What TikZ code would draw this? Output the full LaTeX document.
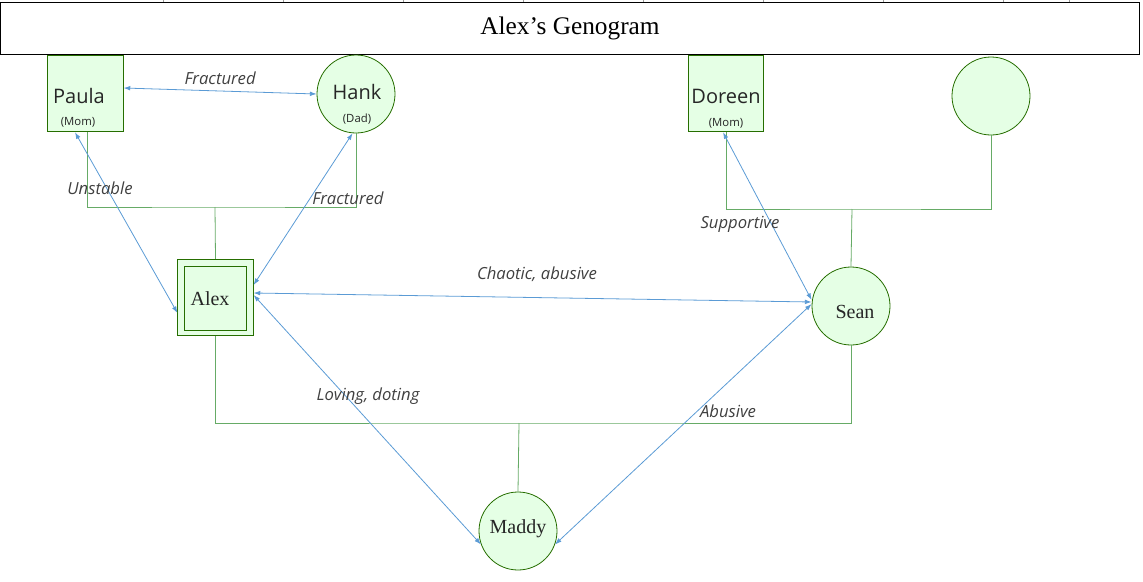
\documentclass[tikz,border=0pt]{standalone}
\usepackage{fontspec}
\setmainfont{Liberation Serif}
\newfontfamily\segoe{Open Sans}
\begin{document}
\begin{tikzpicture}[x=0.75pt,y=-0.75pt,
  person/.style={draw=green!40!black!70!olive,fill=green!10!white,line width=0.6pt,inner sep=0pt},
  sq/.style={person,minimum width=56.5pt,minimum height=57.5pt},
  circ/.style={person,circle,minimum size=58.5pt},
  rel/.style={draw=black!55!green!60,line width=0.6pt},
  link/.style={draw={rgb,255:red,91;green,155;blue,213},line width=0.6pt,{Latex[length=5pt,width=3.5pt]}-{Latex[length=5pt,width=3.5pt]}},
  lab/.style={font=\segoe\itshape\fontsize{12.5}{14}\selectfont,text=black!75},
  nm/.style={font=\segoe\fontsize{15}{17}\selectfont,text=black!85},
  sm/.style={font=\segoe\fontsize{8.5}{10}\selectfont,text=black!85},
  sn/.style={font=\fontsize{15}{17}\selectfont,text=black!85}]
\useasboundingbox (0,0) rectangle (1143,582);
\usetikzlibrary{arrows.meta}
\node[draw,line width=0.6pt,minimum width=854pt,minimum height=39pt,inner sep=0pt,font=\fontsize{19}{22}\selectfont] (title) at (570,28) {Alex’s Genogram};
\foreach \x in {163,283,403,523,643,763,883,1003,1069} \draw[black!40,line width=0.4pt] (\x,0) -- (\x,2);
% persons
\node[sq] (paula) at (85.5,93.5) {};
\node[nm] at (79,96) {Paula};
\node[sm] at (78,122) {(Mom)};
\node[circ] (hank) at (356,94) {};
\node[nm] at (357,92) {Hank};
\node[sm] at (357,119) {(Dad)};
\node[sq] (doreen) at (726,93.5) {};
\node[nm] at (726,96) {Doreen};
\node[sm] at (726,123) {(Mom)};
\node[circ] (other) at (991,96) {};
\node[sq] (alex) at (215.5,297.5) {};
\node[person,minimum width=47pt,minimum height=48pt] (alexin) at (215.5,298) {};
\node[sn] at (210,299) {Alex};
\node[circ] (sean) at (851,306) {};
\node[sn] at (855,312) {Sean};
\node[circ] (maddy) at (518,531) {};
\node[sn] at (518,529) {Maddy};
% family lines
\coordinate (f1) at (215,207);
\coordinate (f2) at (852,209);
\coordinate (f3) at (519,423);
\draw[rel] (paula.south -| 87,0) |- (f1) -| (hank.south);
\draw[rel] (f1) -- (alex.north);
\draw[rel] (doreen.south) |- (f2) -| (other.south);
\draw[rel] (f2) -- (sean.north);
\draw[rel] (alex.south) |- (f3) -| (sean.south);
\draw[rel] (f3) -- (maddy.north);
% relationship arrows
\draw[link] (paula.east |- 0,88) -- (hank.west) node[pos=0.5,lab,above=1pt] {Fractured};
\draw[link] (paula.south -| 75,0) -- (alex.west |- 0,313);
\node[lab] at (100,188) {Unstable};
\draw[link] (hank.-95) -- (alex.east |- 0,285);
\node[lab] at (348,198) {Fractured};
\draw[link] (alex.east |- 0,293) -- (sean.west |- 0,302);
\node[lab] at (537,274) {Chaotic, abusive};
\draw[link] (doreen.south -| 723,0) -- (sean.west |- 0,300);
\node[lab] at (740,224) {Supportive};
\draw[link] (alex.east |- 0,295) -- (maddy.-160);
\node[lab] at (368,396) {Loving, doting};
\draw[link] (sean.west |- 0,304) -- (maddy.-20);
\node[lab] at (728,411) {Abusive};
\end{tikzpicture}
\end{document}
